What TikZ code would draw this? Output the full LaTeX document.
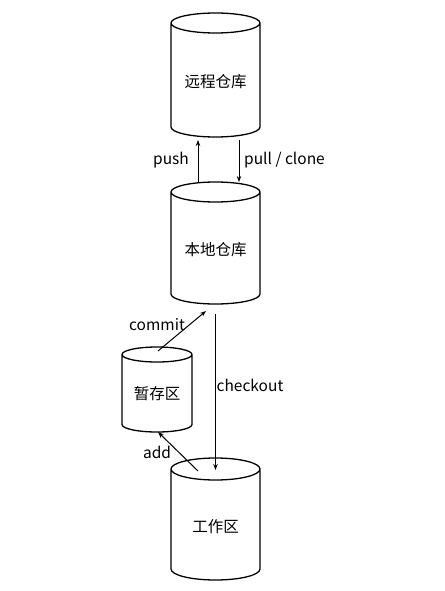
\documentclass[tikz,border=0pt]{standalone}
\usepackage{fontspec}
\setmainfont{Noto Sans CJK SC}
\usetikzlibrary{calc,arrows.meta}
\tikzset{
  cylbox/.style={draw=none,inner sep=0pt,outer sep=0pt},
  cylline/.style={line width=1.3pt,black},
  conn/.style={line width=1pt,black,-{Stealth[length=6pt,width=4.5pt]}},
  lbl/.style={inner sep=0pt,font=\fontsize{15.5}{18}\selectfont},
}
\newcommand\cyldraw[2]{%
  \draw[cylline] let \p1=(#1.north west), \p2=(#1.south east), \n1={(\x2-\x1)/2} in
    ($(#1.north)+(0,-#2pt)$) ellipse [x radius=\n1, y radius=#2pt]
    (\x1,\y1-#2pt) -- (\x1,\y2+#2pt) arc[start angle=180,end angle=360,x radius=\n1,y radius=#2pt] -- (\x2,\y1-#2pt);}
\begin{document}
\begin{tikzpicture}[x=1pt,y=1pt]
\path[use as bounding box,fill=white] (0,0) rectangle (444,-591);
\node[cylbox,minimum width=89pt,minimum height=124pt,label={[lbl,yshift=-7pt]center:远程仓库}] (remote) at (215.5,-75) {};
\node[cylbox,minimum width=89pt,minimum height=122pt,label={[lbl,yshift=-7pt]center:本地仓库}] (local) at (215.5,-243) {};
\node[cylbox,minimum width=70pt,minimum height=85pt,label={[lbl,yshift=-4pt]center:暂存区}] (stage) at (157,-389.5) {};
\node[cylbox,minimum width=89pt,minimum height=122pt,label={[lbl,yshift=-8pt]center:工作区}] (work) at (215.5,-519) {};
\cyldraw{remote}{10}
\cyldraw{local}{10}
\cyldraw{stage}{7.5}
\cyldraw{work}{11}
\draw[conn] ([xshift=-17.5pt]local.north) -- ([xshift=-17.5pt,yshift=-3pt]remote.south);
\draw[conn] ([xshift=23.5pt,yshift=-3pt]remote.south) -- ([xshift=23.5pt]local.north);
\draw[conn] ([xshift=1pt,yshift=-4pt]stage.north) -- ([xshift=-9.5pt,yshift=-7pt]local.south);
\draw[conn] ([yshift=-10pt]local.south) -- ([yshift=-12pt]work.north);
\draw[conn] ([xshift=-17.5pt,yshift=-13pt]work.north) -- ([xshift=1pt]stage.south);
\node[lbl] (lpush) at (171,-160) {push};
\node[lbl] (lpull) at (284.5,-160) {pull / clone};
\node[lbl] (lcommit) at (157,-325) {commit};
\node[lbl] (lcheckout) at (250,-385) {checkout};
\node[lbl] (ladd) at (157,-452) {add};
\end{tikzpicture}
\end{document}
